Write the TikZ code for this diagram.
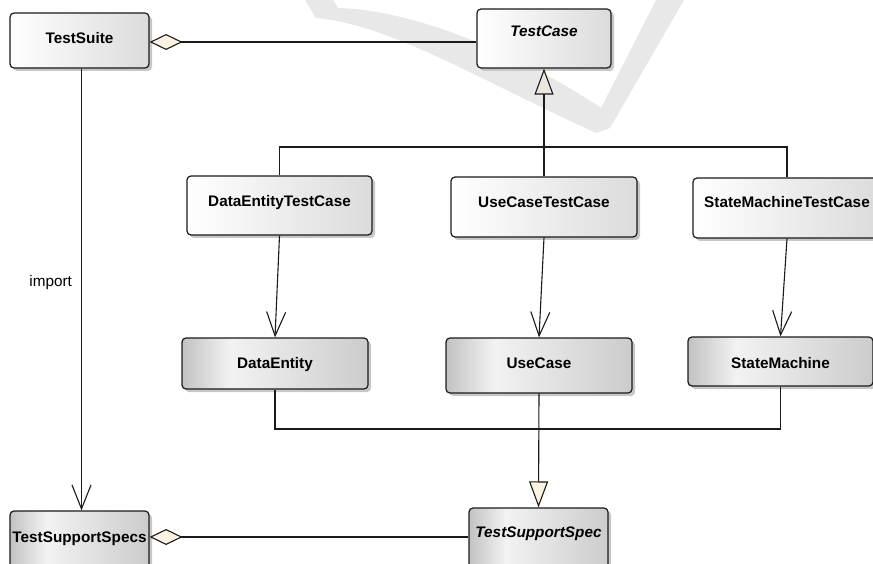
\documentclass[tikz,border=0pt]{standalone}
\usepackage{fontspec}
\setmainfont{Liberation Sans}
\usetikzlibrary{arrows.meta,shadows}
\definecolor{cream}{HTML}{FCF2E2}
\definecolor{trigray}{HTML}{ECE6DC}
\definecolor{edgecol}{HTML}{1A1A1A}
\pgfdeclarehorizontalshading{upshade}{100bp}{color(0bp)=(white); color(25bp)=(white); color(75bp)=(black!14); color(100bp)=(black!14)}
\pgfdeclarehorizontalshading{lowshade}{100bp}{color(0bp)=(black!24); color(25bp)=(black!24); color(38bp)=(black!5); color(75bp)=(black!20); color(100bp)=(black!20)}
\begin{document}
\begin{tikzpicture}[x=1pt,y=-1pt,
  cls/.style={draw=edgecol, line width=1.2pt, rounded corners=4pt, inner sep=0pt,
    text height=16pt, font=\fontsize{15.3}{18}\selectfont\bfseries,
    drop shadow={shadow xshift=3pt, shadow yshift=-3pt, fill=black!22, opacity=1}},
  upper/.style={cls, shade, shading=upshade},
  lower/.style={cls, shade, shading=lowshade},
  ital/.style={font=\fontsize{15.3}{18}\selectfont\bfseries\itshape},
  link/.style={draw=edgecol, line width=1.1pt},
  barb/.style={link, -{Straight Barb[length=24pt,width=19pt]}},
  agg/.style={link, {Diamond[length=33pt,width=16pt,fill=cream]}-},
  wmark/.style={fill=black!9}]
\useasboundingbox (0,0) rectangle (873,564);
\clip (0,0) rectangle (873,564);

% watermark
\fill[wmark] (305,0) -- (316,18) .. controls (390,25) and (470,75) .. (596,133)
  -- (610,128) -- (684,0) -- (656,0) -- (601,108)
  .. controls (530,60) and (420,10) .. (338,8) -- (333,0) -- cycle;

% classes
\node[upper, minimum width=139pt, minimum height=55pt, text depth=10.6pt] (suite) at (79.5,40.5) {TestSuite};
\node[upper, ital, minimum width=134pt, minimum height=59pt, text depth=19.6pt] (tcase) at (544,38.5) {TestCase};
\node[upper, minimum width=185pt, minimum height=59pt, text depth=14.2pt] (detc) at (279.5,205.5) {DataEntityTestCase};
\node[upper, minimum width=186pt, minimum height=60pt, text depth=15.2pt] (uctc) at (544,207) {UseCaseTestCase};
\node[upper, minimum width=188pt, minimum height=60pt, text depth=17.8pt] (smtc) at (787,208) {StateMachineTestCase};
\node[lower, minimum width=186pt, minimum height=51pt, text depth=5.2pt] (de) at (275,363.5) {DataEntity};
\node[lower, minimum width=186pt, minimum height=55pt, text depth=9.2pt] (uc) at (539,365.5) {UseCase};
\node[lower, minimum width=185pt, minimum height=49pt, text depth=1.2pt] (sm) at (780.5,361.5) {StateMachine};
\node[lower, minimum width=139pt, minimum height=59pt, text depth=11.8pt] (tsss) at (79.5,540.5) {TestSupportSpecs};
\node[lower, ital, minimum width=139pt, minimum height=62pt, text depth=18.2pt] (tss) at (538.5,539) {TestSupportSpec};

% aggregation links
\draw[agg] ([yshift=-1.5pt]suite.east) -- ([yshift=-1.5pt]suite.east -| tcase.west);
\draw[agg] ([yshift=3.5pt]tsss.east) -- ([yshift=3.5pt]tsss.east -| tss.west);

% generalization to TestCase
\coordinate (bus) at (544,147);
\draw[link] (detc.north) |- (bus) -| (smtc.north);
\draw[link, -{Triangle[length=26pt,width=19pt,fill=trigray]}] (uctc.north) -- (tcase.south);

% associations
\draw[barb] (detc.south) -- (de.north);
\draw[barb] (uctc.south) -- (uc.north);
\draw[barb] (smtc.south) -- (sm.north);

% generalization to TestSupportSpec
\coordinate (bus2) at (539,429);
\draw[link] (de.south) |- (bus2) -| (sm.south);
\draw[link, -{Triangle[length=26pt,width=19pt,fill=cream]}] (uc.south) -- (tss.north);

% import
\draw[barb] ([xshift=2pt]suite.south) -- node[pos=0.485, anchor=east, xshift=-9pt, inner sep=0pt,
  font=\fontsize{15.3}{18}\selectfont] (implbl) {import} ([xshift=2pt]tsss.north);
\end{tikzpicture}
\end{document}
